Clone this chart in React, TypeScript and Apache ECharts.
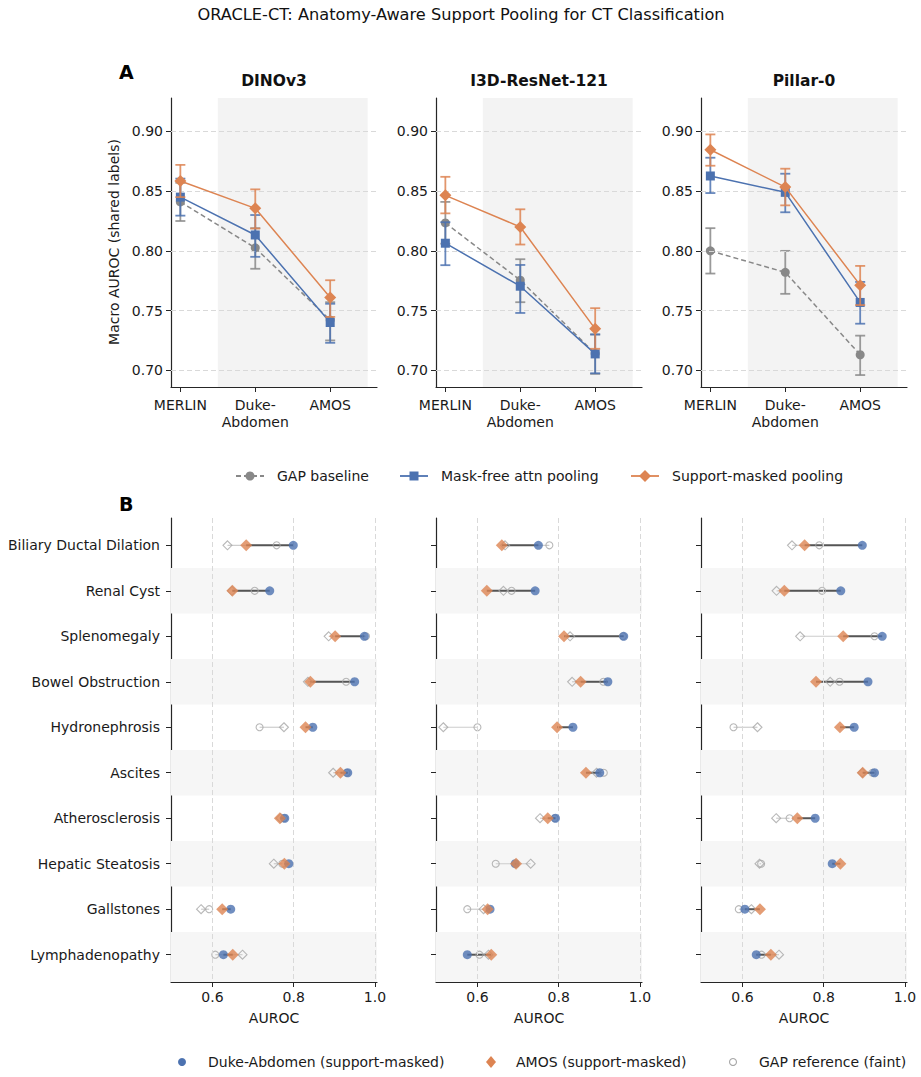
import React, { useEffect, useRef } from "react";
import * as echarts from "echarts";

// ---------- DATA ----------
const models = ["DINOv3", "I3D-ResNet-121", "Pillar-0"];
const datasets = ["MERLIN", "Duke-\nAbdomen", "AMOS"];
const yTicksA = [0.7, 0.75, 0.8, 0.85, 0.9];
const xTicksB = [0.6, 0.8, 1.0];

// Panel A: macro AUROC (mean, low CI, high CI) per model x dataset
const gapMean = [[0.841, 0.8025, 0.742], [0.8234, 0.7754, 0.714], [0.8, 0.782, 0.713]];
const gapLo = [[0.825, 0.785, 0.725], [0.806, 0.757, 0.697], [0.781, 0.764, 0.696]];
const gapHi = [[0.857, 0.819, 0.757], [0.841, 0.793, 0.73], [0.819, 0.8, 0.729]];
const maskFreeMean = [[0.845, 0.8133, 0.74], [0.8064, 0.7704, 0.7137], [0.8627, 0.849, 0.7568]];
const maskFreeLo = [[0.8295, 0.795, 0.723], [0.788, 0.748, 0.6975], [0.8484, 0.8323, 0.739]];
const maskFreeHi = [[0.8605, 0.83, 0.7557], [0.824, 0.7882, 0.73], [0.878, 0.8646, 0.774]];
const supportMean = [[0.8585, 0.8356, 0.761], [0.8465, 0.82, 0.7347], [0.8847, 0.8534, 0.7713]];
const supportLo = [[0.845, 0.8187, 0.7447], [0.8314, 0.8053, 0.718], [0.8713, 0.8381, 0.7546]];
const supportHi = [[0.872, 0.8515, 0.7754], [0.862, 0.8348, 0.752], [0.8975, 0.8688, 0.7874]];

// Panel B: per-finding AUROC
const findings = [
  "Biliary Ductal Dilation", "Renal Cyst", "Splenomegaly", "Bowel Obstruction", "Hydronephrosis",
  "Ascites", "Atherosclerosis", "Hepatic Steatosis", "Gallstones", "Lymphadenopathy",
];
const dukeMasked = [
  [0.799, 0.741, 0.974, 0.95, 0.847, 0.933, 0.778, 0.788, 0.645, 0.627],
  [0.75, 0.742, 0.96, 0.921, 0.835, 0.901, 0.792, 0.693, 0.631, 0.575],
  [0.895, 0.842, 0.944, 0.909, 0.875, 0.925, 0.779, 0.821, 0.606, 0.634],
];
const amosMasked = [
  [0.683, 0.649, 0.902, 0.841, 0.829, 0.915, 0.766, 0.777, 0.624, 0.65],
  [0.66, 0.623, 0.813, 0.854, 0.796, 0.867, 0.773, 0.695, 0.625, 0.634],
  [0.753, 0.703, 0.848, 0.781, 0.84, 0.896, 0.735, 0.841, 0.643, 0.67],
];
const dukeGap = [
  [0.758, 0.704, 0.978, 0.929, 0.716, 0.93, 0.776, 0.772, 0.592, 0.607],
  [0.777, 0.684, 0.958, 0.91, 0.6, 0.911, 0.79, 0.645, 0.575, 0.605],
  [0.789, 0.796, 0.925, 0.839, 0.578, 0.92, 0.716, 0.646, 0.591, 0.647],
];
const amosGap = [
  [0.637, 0.648, 0.886, 0.835, 0.776, 0.897, 0.768, 0.751, 0.572, 0.674],
  [0.668, 0.664, 0.828, 0.833, 0.516, 0.893, 0.754, 0.731, 0.615, 0.627],
  [0.722, 0.684, 0.742, 0.816, 0.637, 0.895, 0.683, 0.642, 0.622, 0.69],
];

// ---------- STYLE ----------
const FONT = "DejaVu Sans";
const GRAY = "#888888";
const BLUE = "#4c72b0";
const ORANGE = "#dd8452";
const AXIS = "#262626";
const GRID_LEFT = [171, 436, 701];
const GRID_W = 206;

const errRender = (color: string) => (params: any, api: any) => {
  const x = api.value(0);
  const p1 = api.coord([x, api.value(1)]);
  const p2 = api.coord([x, api.value(2)]);
  const cap = 5;
  const st = { stroke: color, lineWidth: 1.8, opacity: 0.85 };
  return {
    type: "group",
    children: [
      { type: "line", shape: { x1: p1[0], y1: p1[1], x2: p2[0], y2: p2[1] }, style: st },
      { type: "line", shape: { x1: p1[0] - cap, y1: p1[1], x2: p1[0] + cap, y2: p1[1] }, style: st },
      { type: "line", shape: { x1: p2[0] - cap, y1: p2[1], x2: p2[0] + cap, y2: p2[1] }, style: st },
    ],
  };
};

const segRender = (color: string, width: number) => (params: any, api: any) => {
  const r = api.value(2);
  const p1 = api.coord([api.value(0), r]);
  const p2 = api.coord([api.value(1), r]);
  return {
    type: "line",
    shape: { x1: p1[0], y1: p1[1], x2: p2[0], y2: p2[1] },
    style: { stroke: color, lineWidth: width },
  };
};

function buildOption() {
  const grid: any[] = [];
  const xAxis: any[] = [];
  const yAxis: any[] = [];
  const series: any[] = [];
  const graphic: any[] = [];
  const txt = { fontFamily: FONT, color: "#1a1a1a", fontSize: 14 };
  const axLine = { show: true, onZero: false, lineStyle: { color: AXIS, width: 1.2 } };

  // Panel A grids 0..2
  models.forEach((m, i) => {
    grid.push({ left: GRID_LEFT[i], top: 98, width: GRID_W, height: 289 });
    xAxis.push({
      type: "value", gridIndex: i, min: -0.125, max: 2.625,
      axisLine: axLine,
      axisTick: { show: true, length: 5, lineStyle: { color: AXIS }, customValues: [0, 1, 2] },
      axisLabel: {
        ...txt, margin: 9, lineHeight: 17, customValues: [0, 1, 2],
        formatter: (v: number) => datasets[Math.round(v)],
      },
      splitLine: { show: false },
    });
    yAxis.push({
      type: "value", gridIndex: i, min: 0.686, max: 0.928,
      axisLine: axLine,
      axisTick: { show: true, length: 5, lineStyle: { color: AXIS }, customValues: yTicksA },
      axisLabel: { ...txt, margin: 8, customValues: yTicksA, formatter: (v: number) => v.toFixed(2) },
      splitLine: { show: false },
    });
    // background band + grid lines
    series.push({
      type: "line", xAxisIndex: i, yAxisIndex: i, data: [], z: 0, silent: true,
      markArea: { silent: true, itemStyle: { color: "#f3f3f3" }, data: [[{ xAxis: 0.5 }, { xAxis: 2.5 }]] },
      markLine: {
        silent: true, symbol: ["none", "none"], label: { show: false },
        lineStyle: { color: "#d9d9d9", type: [5, 3], width: 1 },
        data: yTicksA.map((v) => ({ yAxis: v })),
      },
    });
    const methods = [
      { mean: gapMean, lo: gapLo, hi: gapHi, color: GRAY, symbol: "circle", size: 9, dash: [5, 3] },
      { mean: maskFreeMean, lo: maskFreeLo, hi: maskFreeHi, color: BLUE, symbol: "rect", size: 9, dash: "solid" },
      { mean: supportMean, lo: supportLo, hi: supportHi, color: ORANGE, symbol: "diamond", size: 12, dash: "solid" },
    ];
    methods.forEach((md, k) => {
      series.push({
        type: "custom", xAxisIndex: i, yAxisIndex: i, z: 3 + k * 2, silent: true,
        renderItem: errRender(md.color),
        encode: { x: 0, y: [1, 2] },
        data: [0, 1, 2].map((d) => [d, md.lo[i][d], md.hi[i][d]]),
      });
      series.push({
        type: "line", xAxisIndex: i, yAxisIndex: i, z: 4 + k * 2, silent: true,
        symbol: md.symbol, symbolSize: md.size, showAllSymbol: true,
        itemStyle: { color: md.color },
        lineStyle: { color: md.color, width: 1.5, type: md.dash as any },
        data: [0, 1, 2].map((d) => [d, md.mean[i][d]]),
      });
    });
    graphic.push({
      type: "text", x: GRID_LEFT[i] + GRID_W / 2, y: 81,
      style: { text: m, font: `bold 15.5px "${FONT}"`, fill: "#111", align: "center", verticalAlign: "middle" },
    });
  });

  // Panel B grids 3..5
  const rows = findings.map((_, r) => r);
  models.forEach((m, i) => {
    const gi = 3 + i;
    grid.push({ left: GRID_LEFT[i], top: 518, width: GRID_W, height: 464 });
    xAxis.push({
      type: "value", gridIndex: gi, min: 0.498, max: 1.005,
      name: "AUROC", nameLocation: "middle", nameGap: 29, nameTextStyle: { ...txt },
      axisLine: axLine,
      axisTick: { show: true, length: 5, lineStyle: { color: AXIS }, customValues: xTicksB },
      axisLabel: { ...txt, margin: 8, customValues: xTicksB, formatter: (v: number) => v.toFixed(1) },
      splitLine: { show: false },
    });
    yAxis.push({
      type: "value", gridIndex: gi, inverse: true, min: -0.6, max: 9.6,
      axisLine: axLine,
      axisTick: { show: true, length: 5, lineStyle: { color: AXIS }, customValues: rows },
      axisLabel: {
        ...txt, show: i === 0, margin: 11, customValues: rows,
        formatter: (v: number) => findings[Math.round(v)],
      },
      splitLine: { show: false },
    });
    series.push({
      type: "line", xAxisIndex: gi, yAxisIndex: gi, data: [], z: 0, silent: true,
      markArea: {
        silent: true, itemStyle: { color: "#f6f6f6" },
        data: rows
          .filter((r) => r % 2 === 1)
          .map((r) => [{ yAxis: r - 0.5 }, { yAxis: r === rows.length - 1 ? 9.6 : r + 0.5 }]),
      },
      markLine: {
        silent: true, symbol: ["none", "none"], label: { show: false },
        lineStyle: { color: "#d9d9d9", type: [5, 3], width: 1 },
        data: xTicksB.map((v) => ({ xAxis: v })),
      },
    });
    series.push({
      type: "custom", xAxisIndex: gi, yAxisIndex: gi, z: 2, silent: true,
      renderItem: segRender("#cccccc", 1.2), encode: { x: [0, 1], y: 2 },
      data: rows.map((r) => [amosGap[i][r], dukeGap[i][r], r]),
    });
    series.push({
      type: "custom", xAxisIndex: gi, yAxisIndex: gi, z: 3, silent: true,
      renderItem: segRender("#555555", 2), encode: { x: [0, 1], y: 2 },
      data: rows.map((r) => [amosMasked[i][r], dukeMasked[i][r], r]),
    });
    series.push({
      type: "scatter", xAxisIndex: gi, yAxisIndex: gi, z: 4, silent: true,
      symbol: "circle", symbolSize: 7,
      itemStyle: { color: "none", borderColor: "#a6a6a6", borderWidth: 1.1 },
      data: rows.map((r) => [dukeGap[i][r], r]),
    });
    series.push({
      type: "scatter", xAxisIndex: gi, yAxisIndex: gi, z: 4, silent: true,
      symbol: "diamond", symbolSize: 9,
      itemStyle: { color: "none", borderColor: "#a6a6a6", borderWidth: 1.1 },
      data: rows.map((r) => [amosGap[i][r], r]),
    });
    series.push({
      type: "scatter", xAxisIndex: gi, yAxisIndex: gi, z: 5, silent: true,
      symbol: "circle", symbolSize: 9, itemStyle: { color: BLUE },
      data: rows.map((r) => [dukeMasked[i][r], r]),
    });
    series.push({
      type: "scatter", xAxisIndex: gi, yAxisIndex: gi, z: 6, silent: true,
      symbol: "diamond", symbolSize: 12, itemStyle: { color: ORANGE },
      data: rows.map((r) => [amosMasked[i][r], r]),
    });
  });

  // Titles & labels
  graphic.push(
    {
      type: "text", x: 461, y: 14,
      style: { text: "ORACLE-CT: Anatomy-Aware Support Pooling for CT Classification", font: `16.2px "${FONT}"`, fill: "#111", align: "center", verticalAlign: "middle" },
    },
    { type: "text", x: 119, y: 72, style: { text: "A", font: `bold 19px "${FONT}"`, fill: "#000", verticalAlign: "middle" } },
    { type: "text", x: 119, y: 504, style: { text: "B", font: `bold 19px "${FONT}"`, fill: "#000", verticalAlign: "middle" } },
    {
      type: "text", x: 114, y: 242, rotation: Math.PI / 2,
      style: { text: "Macro AUROC (shared labels)", font: `14px "${FONT}"`, fill: "#1a1a1a", align: "center", verticalAlign: "middle" },
    }
  );

  // Legend A
  const ly = 476;
  const legA = [
    { x0: 236, color: GRAY, dash: [5, 3], label: "GAP baseline", mk: "circle" },
    { x0: 400, color: BLUE, dash: null, label: "Mask-free attn pooling", mk: "rect" },
    { x0: 631, color: ORANGE, dash: null, label: "Support-masked pooling", mk: "diamond" },
  ];
  legA.forEach((l) => {
    const cx = l.x0 + 14;
    graphic.push({
      type: "line", shape: { x1: l.x0, y1: ly, x2: l.x0 + 28, y2: ly },
      style: { stroke: l.color, lineWidth: 1.8, lineDash: l.dash || undefined },
    });
    if (l.mk === "circle") graphic.push({ type: "circle", shape: { cx, cy: ly, r: 4.5 }, style: { fill: l.color } });
    if (l.mk === "rect") graphic.push({ type: "rect", shape: { x: cx - 4.5, y: ly - 4.5, width: 9, height: 9 }, style: { fill: l.color } });
    if (l.mk === "diamond")
      graphic.push({ type: "polygon", shape: { points: [[cx, ly - 6], [cx + 6, ly], [cx, ly + 6], [cx - 6, ly]] }, style: { fill: l.color } });
    graphic.push({
      type: "text", x: l.x0 + 41, y: ly,
      style: { text: l.label, font: `14px "${FONT}"`, fill: "#1a1a1a", verticalAlign: "middle" },
    });
  });

  // Legend B
  const by = 1062;
  graphic.push(
    { type: "circle", shape: { cx: 182, cy: by, r: 4 }, style: { fill: BLUE } },
    { type: "text", x: 208, y: by, style: { text: "Duke-Abdomen (support-masked)", font: `14px "${FONT}"`, fill: "#1a1a1a", verticalAlign: "middle" } },
    { type: "polygon", shape: { points: [[491, by - 6], [496, by], [491, by + 6], [486, by]] }, style: { fill: ORANGE } },
    { type: "text", x: 516, y: by, style: { text: "AMOS (support-masked)", font: `14px "${FONT}"`, fill: "#1a1a1a", verticalAlign: "middle" } },
    { type: "circle", shape: { cx: 733, cy: by, r: 3.5 }, style: { fill: "none", stroke: "#a6a6a6", lineWidth: 1.1 } },
    { type: "text", x: 759, y: by, style: { text: "GAP reference (faint)", font: `14px "${FONT}"`, fill: "#1a1a1a", verticalAlign: "middle" } }
  );

  return {
    animation: false,
    backgroundColor: "#ffffff",
    textStyle: { fontFamily: FONT },
    grid, xAxis, yAxis, series, graphic,
  };
}

export default function App() {
  const ref = useRef<HTMLDivElement>(null);
  useEffect(() => {
    if (!ref.current) return;
    const chart = echarts.init(ref.current, null, { renderer: "svg" });
    chart.setOption(buildOption() as any);
    return () => chart.dispose();
  }, []);
  return <div ref={ref} style={{ position: "fixed", left: 0, top: 0, width: 921, height: 1077, background: "#fff" }} />;
}
